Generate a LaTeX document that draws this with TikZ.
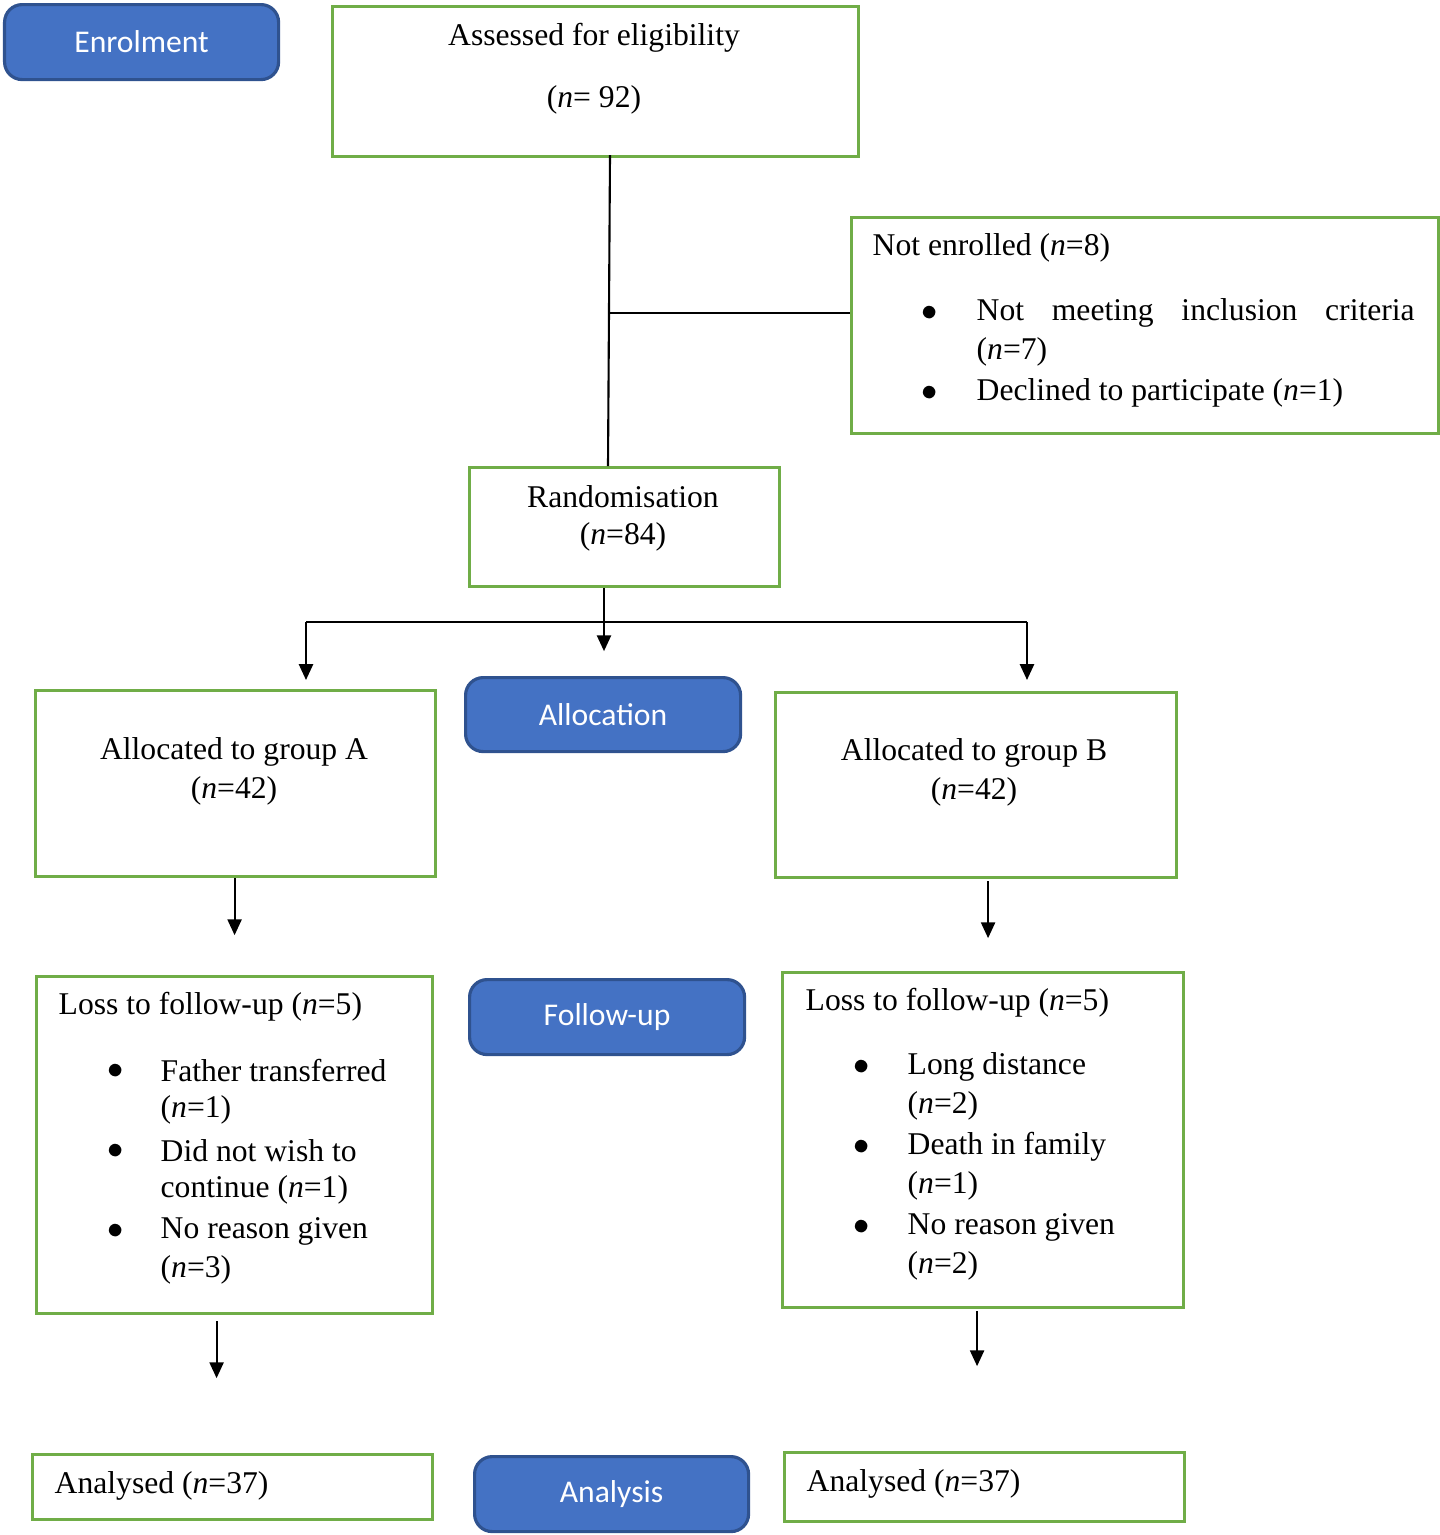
\documentclass[tikz,border=0pt]{standalone}
\usepackage{fontspec}
\setmainfont{Liberation Serif}
\newfontfamily\labelfont{Carlito}
\usetikzlibrary{arrows.meta,calc}
\definecolor{boxgreen}{HTML}{70AD47}
\definecolor{stageblue}{HTML}{4472C4}
\definecolor{stageedge}{HTML}{2F528F}
\begin{document}
\begin{tikzpicture}[
         gbox/.style = {draw=boxgreen, line width=0.9pt, anchor=north west, inner sep=0pt},
         stage/.style = {draw=stageedge, fill=stageblue, line width=0.9pt, rounded corners=5pt,
            anchor=north west, inner sep=0pt, text=white, font=\labelfont\fontsize{9}{11}\selectfont},
         txt/.style = {font=\fontsize{9}{11}\selectfont, inner sep=0pt},
         ltxt/.style = {txt, anchor=west},
         arr/.style = {line width=0.6pt, -{Triangle[length=4.5pt,width=4pt]}},
         link/.style = {line width=0.6pt}
]
   \useasboundingbox (0,0) rectangle (14.39,-15.35);
   % stage labels
   \node[stage, minimum width=2.74cm, minimum height=0.75cm] (enrol) at (0.03,-0.03) {Enrolment};
   \node[stage, minimum width=2.75cm, minimum height=0.74cm] (alloc) at (4.64,-6.76) {Allocation};
   \node[stage, minimum width=2.75cm, minimum height=0.75cm] (follow) at (4.68,-9.78) {Follow-up};
   \node[stage, minimum width=2.74cm, minimum height=0.75cm] (analysis) at (4.73,-14.55) {Analysis};

   % boxes
   \node[gbox, minimum width=5.26cm, minimum height=1.50cm] (assess) at (3.31,-0.05) {};
   \node[gbox, minimum width=5.87cm, minimum height=2.16cm] (notenr) at (8.50,-2.16) {};
   \node[gbox, minimum width=3.10cm, minimum height=1.19cm] (rand) at (4.68,-4.66) {};
   \node[gbox, minimum width=4.00cm, minimum height=1.86cm] (grpA) at (0.34,-6.89) {};
   \node[gbox, minimum width=4.01cm, minimum height=1.85cm] (grpB) at (7.74,-6.91) {};
   \node[gbox, minimum width=3.96cm, minimum height=3.37cm] (lossA) at (0.35,-9.75) {};
   \node[gbox, minimum width=4.01cm, minimum height=3.35cm] (lossB) at (7.81,-9.71) {};
   \node[gbox, minimum width=4.00cm, minimum height=0.65cm] (anaA) at (0.31,-14.53) {};
   \node[gbox, minimum width=4.00cm, minimum height=0.69cm] (anaB) at (7.83,-14.51) {};

   % texts
   \node[txt] (t1) at (5.94,-0.38) {Assessed for eligibility};
   \node[txt] (t2) at (5.94,-1.00) {(\textit{n}= 92)};
   \node[ltxt] (t3) at (8.72,-2.48) {Not enrolled (\textit{n}=8)};
   \node[txt] (b1) at (9.30,-3.13) {$\bullet$};
   \node[ltxt] (t4) at (9.76,-3.13) {\makebox[4.38cm][s]{Not meeting inclusion criteria}};
   \node[ltxt] (t5) at (9.76,-3.52) {(\textit{n}=7)};
   \node[txt] (b2) at (9.30,-3.93) {$\bullet$};
   \node[ltxt] (t6) at (9.76,-3.93) {Declined to participate (\textit{n}=1)};
   \node[txt] (t7) at (6.23,-4.97) {Randomisation};
   \node[txt] (t8) at (6.23,-5.37) {(\textit{n}=84)};
   \node[txt] (t9) at (2.34,-7.52) {Allocated to group A};
   \node[txt] (t10) at (2.34,-7.91) {(\textit{n}=42)};
   \node[txt] (t11) at (9.74,-7.53) {Allocated to group B};
   \node[txt] (t12) at (9.74,-7.92) {(\textit{n}=42)};

   \node[ltxt] (la0) at (0.58,-10.07) {Loss to follow-up (\textit{n}=5)};
   \foreach \y/\a/\b in {10.71/Father transferred/(\textit{n}=1),
                         11.51/Did not wish to/continue (\textit{n}=1),
                         12.31/No reason given/(\textit{n}=3)} {
      \node[txt] at (1.16,-\y) {$\bullet$};
      \node[ltxt] at (1.60,-\y) {\a};
      \node[ltxt] at (1.60,-\y-0.39) {\b};
   }
   \node[ltxt] (lb0) at (8.05,-10.03) {Loss to follow-up (\textit{n}=5)};
   \foreach \y/\a/\b in {10.67/Long distance/(\textit{n}=2),
                         11.47/Death in family/(\textit{n}=1),
                         12.27/No reason given/(\textit{n}=2)} {
      \node[txt] at (8.62,-\y) {$\bullet$};
      \node[ltxt] at (9.07,-\y) {\a};
      \node[ltxt] at (9.07,-\y-0.39) {\b};
   }
   \node[ltxt] (t13) at (0.54,-14.86) {Analysed (\textit{n}=37)};
   \node[ltxt] (t14) at (8.06,-14.84) {Analysed (\textit{n}=37)};

   % connectors
   \coordinate (j1) at (6.08,-3.13);
   \coordinate (s1) at (6.10,-1.55);
   \coordinate (j2) at (6.04,-6.22);
   \coordinate (jl) at (3.06,-6.22);
   \coordinate (jr) at (10.27,-6.22);
   \draw[link] (s1) -- (rand.north -| j1);
   \draw[link] (j1) -- (notenr.west |- j1);
   \draw[arr] (rand.south -| j2) -- ++(0,-0.63);
   \draw[link] (jl) -- (jr);
   \draw[arr] (jl) -- ++(0,-0.58);
   \draw[arr] (jr) -- ++(0,-0.58);
   \draw[arr] ($(grpA.south)+(-0.01,0)$) -- ++(0,-0.57);
   \draw[arr] ($(grpB.south)+(0.12,-0.02)$) -- ++(0,-0.57);
   \draw[arr] ($(lossA.south)+(-0.18,-0.06)$) -- ++(0,-0.57);
   \draw[arr] ($(lossB.south)+(-0.06,-0.02)$) -- ++(0,-0.55);
\end{tikzpicture}
\end{document}
